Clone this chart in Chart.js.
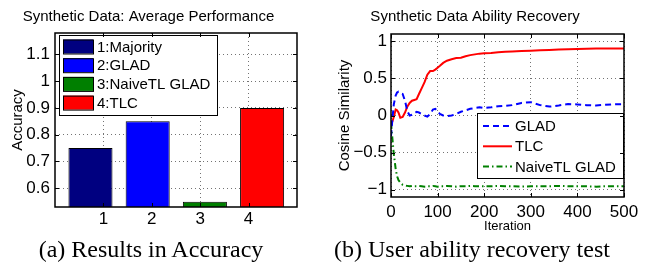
<!DOCTYPE html>
<html>
<head>
<meta charset="utf-8">
<script src="https://cdn.jsdelivr.net/npm/chart.js@4.4.0/dist/chart.umd.min.js"></script>
<style>
  body { margin: 0; background: #fff; width: 652px; height: 266px; position: relative; overflow: hidden; }
  .wrap { position: absolute; top: 0; width: 326px; height: 236px; }
  .cap { position: absolute; top: 235px; font-family: 'Liberation Serif', 'Times New Roman', serif;
         font-size: 24px; line-height: 28px; white-space: nowrap; transform: translateX(-50%); color: #000; }
</style>
</head>
<body>
<div class="wrap" style="left:0"><canvas id="accChart" width="326" height="236"></canvas></div>
<div class="wrap" style="left:326px"><canvas id="recChart" width="326" height="236"></canvas></div>
<div class="cap" style="left:151px">(a) Results in Accuracy</div>
<div class="cap" style="left:472px">(b) User ability recovery test</div>
<script>
// left panel: accuracy per method
const methodNames = ['1:Majority', '2:GLAD', '3:NaiveTL GLAD', '4:TLC'];
const barTickLabels = ['1', '2', '3', '4'];
const barSlots = [1, 2, 3, 4];
const accuracy = [0.75, 0.85, 0.55, 0.90];
const accTicks = [0.6, 0.7, 0.8, 0.9, 1, 1.1];

// right panel: cosine similarity vs iteration
const iterations = [0, 3, 6, 10, 13, 16, 20, 25, 30, 35, 40, 45, 50, 55, 60, 66, 72, 78, 84, 90, 95, 100,
  105, 112, 120, 130, 140, 150, 160, 170, 180, 190, 200, 215, 230, 245, 260, 280, 300,
  320, 340, 360, 380, 400, 420, 440, 460, 480, 500];
const gladSim = [-0.28, -0.05, 0.15, 0.27, 0.31, 0.32, 0.30, 0.29, 0.20, 0.06, 0.0, 0.01, 0.03, 0.05, 0.04,
  0.02, 0.0, -0.015, 0.02, 0.08, 0.09, 0.06,
  0.02, 0.0, -0.01, 0.0, 0.02, 0.05, 0.07, 0.09, 0.10, 0.11, 0.10, 0.11, 0.125, 0.13, 0.14, 0.17, 0.18,
  0.14, 0.12, 0.135, 0.155, 0.15, 0.14, 0.135, 0.145, 0.15, 0.155];
const tlcSim = [-0.12, -0.08, -0.02, 0.08, 0.07, 0.04, -0.03, -0.02, 0.04, 0.12, 0.17, 0.20, 0.21, 0.22, 0.29,
  0.37, 0.45, 0.55, 0.60, 0.60, 0.62, 0.645,
  0.67, 0.71, 0.74, 0.76, 0.775, 0.78, 0.80, 0.815, 0.825, 0.835, 0.84, 0.845, 0.855, 0.86, 0.865, 0.87, 0.875,
  0.88, 0.885, 0.89, 0.893, 0.896, 0.90, 0.905, 0.905, 0.905, 0.905];
const naiveSim = [-0.10, -0.31, -0.52, -0.72, -0.82, -0.87, -0.905, -0.935, -0.945, -0.95, -0.955, -0.95, -0.955, -0.955, -0.95,
  -0.955, -0.96, -0.955, -0.955, -0.95, -0.955, -0.96,
  -0.955, -0.955, -0.95, -0.955, -0.96, -0.955, -0.955, -0.95, -0.955, -0.955, -0.955, -0.955, -0.95, -0.955, -0.955, -0.96, -0.955,
  -0.955, -0.955, -0.95, -0.955, -0.955, -0.955, -0.96, -0.955, -0.955, -0.955];
const simTicks = [-1, -0.5, 0, 0.5, 1];
const iterTicks = [0, 100, 200, 300, 400, 500];

const barColors = ['#000080', '#0000ff', '#007f00', '#ff0000'];
const sans = "'Liberation Sans', Arial, Helvetica, sans-serif";
Chart.defaults.font.family = sans;
Chart.defaults.color = '#000';

const dotGrid = { color: 'rgba(0,0,0,0.55)', lineWidth: 1, drawTicks: false, offset: false };
const dotBorder = { display: false, dash: [1, 3] };
const minus = v => String(v).replace('-', '\u2212');

// black box around the plot with small inward ticks, like matlab
const framePlugin = {
  id: 'frame',
  afterDraw(chart, args, opts) {
    const { ctx, chartArea: a } = chart;
    const l = Math.round(a.left), r = Math.round(a.right), t = Math.round(a.top), b = Math.round(a.bottom);
    ctx.save();
    ctx.strokeStyle = '#000';
    ctx.lineWidth = 1.5;
    ctx.setLineDash([]);
    ctx.beginPath();
    ctx.moveTo(l, t); ctx.lineTo(r, t); ctx.lineTo(r, b); ctx.lineTo(l, b); ctx.closePath();
    ctx.stroke();
    const xs = chart.scales[opts.xScale || 'x'], ys = chart.scales.y;
    ctx.lineWidth = 1;
    ctx.beginPath();
    xs.ticks.forEach(tk => {
      const p = Math.round(xs.getPixelForValue(tk.value)) + 0.5;
      ctx.moveTo(p, b); ctx.lineTo(p, b - 4);
      ctx.moveTo(p, t); ctx.lineTo(p, t + 4);
    });
    ys.ticks.forEach(tk => {
      const p = Math.round(ys.getPixelForValue(tk.value)) + 0.5;
      ctx.moveTo(l, p); ctx.lineTo(l + 4, p);
      ctx.moveTo(r, p); ctx.lineTo(r - 4, p);
    });
    ctx.stroke();
    ctx.restore();
  }
};

// boxed legend placed inside the plot
const boxLegend = {
  id: 'boxLegend',
  afterDatasetsDraw(chart, args, o) {
    const ctx = chart.ctx;
    ctx.save();
    ctx.fillStyle = '#fff';
    ctx.fillRect(o.x, o.y, o.w, o.h);
    ctx.strokeStyle = '#000';
    ctx.lineWidth = 1;
    ctx.strokeRect(o.x + 0.5, o.y + 0.5, o.w, o.h);
    ctx.font = '15px ' + sans;
    ctx.textBaseline = 'middle';
    o.items.forEach((it, i) => {
      const cy = o.rowTop + i * o.pitch;
      if (o.kind === 'swatch') {
        ctx.fillStyle = it.color;
        ctx.fillRect(o.markX, cy - 7, o.markW, 14);
        ctx.strokeStyle = '#000';
        ctx.strokeRect(o.markX + 0.5, cy - 6.5, o.markW, 14);
      } else {
        ctx.strokeStyle = it.color;
        ctx.lineWidth = 2;
        ctx.setLineDash(it.dash || []);
        ctx.beginPath();
        ctx.moveTo(o.markX, cy); ctx.lineTo(o.markX + o.markW, cy);
        ctx.stroke();
        ctx.setLineDash([]);
      }
      ctx.fillStyle = '#000';
      ctx.fillText(it.label, o.textX, cy + 1);
    });
    ctx.restore();
  }
};

new Chart(document.getElementById('accChart'), {
  type: 'bar',
  data: {
    datasets: [{
      data: barSlots.map((x, i) => ({ x: x, y: accuracy[i] })),
      backgroundColor: barColors,
      borderColor: '#000',
      borderWidth: 1,
      barPercentage: 0.77,
      categoryPercentage: 1,
      xAxisID: 'x',
      yAxisID: 'y'
    }]
  },
  options: {
    responsive: false,
    animation: false,
    devicePixelRatio: 1,
    layout: { padding: { left: 0, right: 29, top: 0, bottom: 0 } },
    plugins: {
      legend: { display: false },
      tooltip: { enabled: false },
      title: {
        display: true, text: 'Synthetic Data: Average Performance', color: '#000',
        font: { size: 15, weight: 'normal' }, padding: { top: 8, bottom: 7 }
      },
      frame: { xScale: 'xt' },
      boxLegend: {
        kind: 'swatch', x: 59, y: 35, w: 158, h: 80, rowTop: 46.5, pitch: 18.7,
        markX: 63, markW: 30, textX: 97,
        items: methodNames.map((n, i) => ({ label: n, color: barColors[i] }))
      }
    },
    scales: {
      x: { type: 'linear', display: false, offset: false, min: 0.38, max: 4.61, grid: { offset: false } },
      xt: {
        type: 'linear', position: 'bottom', min: 0, max: 5, offset: false,
        afterBuildTicks: s => { s.ticks = barSlots.map(v => ({ value: v })); },
        afterFit: s => { s.height = 29; },
        ticks: { callback: v => barTickLabels[barSlots.indexOf(v)], font: { size: 17 }, color: '#000', padding: 2, maxRotation: 0 },
        grid: dotGrid, border: dotBorder
      },
      y: {
        min: 0.53, max: 1.18,
        afterBuildTicks: s => { s.ticks = accTicks.map(v => ({ value: v })); },
        afterFit: s => { s.width = 55; },
        ticks: { callback: v => String(v), font: { size: 17 }, color: '#000', padding: 5 },
        grid: dotGrid, border: dotBorder,
        title: { display: true, text: 'Accuracy', font: { size: 15 }, color: '#000', padding: { top: 9, bottom: 0 } }
      }
    }
  },
  plugins: [framePlugin, boxLegend]
});

const recChart = new Chart(document.getElementById('recChart'), {
  type: 'line',
  data: {
    datasets: [
      { label: 'GLAD', data: iterations.map((x, i) => ({ x: x, y: gladSim[i] })),
        borderColor: '#0000ff', borderWidth: 2, borderDash: [6, 4] },
      { label: 'TLC', data: iterations.map((x, i) => ({ x: x, y: tlcSim[i] })),
        borderColor: '#ff0000', borderWidth: 2 },
      { label: 'NaiveTL GLAD', data: iterations.map((x, i) => ({ x: x, y: naiveSim[i] })),
        borderColor: '#008000', borderWidth: 2, borderDash: [6, 3, 1.5, 3] }
    ]
  },
  options: {
    responsive: false,
    animation: false,
    devicePixelRatio: 1,
    elements: { point: { radius: 0 }, line: { tension: 0 } },
    layout: { padding: { left: 0, right: 28, top: 0, bottom: 0 } },
    plugins: {
      legend: { display: false },
      tooltip: { enabled: false },
      title: {
        display: true, text: 'Synthetic Data Ability Recovery', color: '#000',
        font: { size: 15, weight: 'normal' }, padding: { top: 8, bottom: 8 }
      },
      frame: { xScale: 'x' },
      boxLegend: {
        kind: 'line', x: 151, y: 113, w: 146, h: 65, rowTop: 126, pitch: 20.3,
        markX: 157, markW: 29, textX: 189, items: []
      }
    },
    scales: {
      x: {
        type: 'linear', min: 0, max: 500,
        afterBuildTicks: s => { s.ticks = iterTicks.map(v => ({ value: v })); },
        afterFit: s => { s.height = 39; },
        ticks: { font: { size: 17 }, color: '#000', padding: 5, maxRotation: 0 },
        grid: dotGrid, border: dotBorder,
        title: { display: true, text: 'Iteration', font: { size: 13 }, color: '#000', padding: { top: 0, bottom: 2 } }
      },
      y: {
        min: -1.1, max: 1.1,
        afterBuildTicks: s => { s.ticks = simTicks.map(v => ({ value: v })); },
        afterFit: s => { s.width = 65; },
        ticks: { callback: minus, font: { size: 17 }, color: '#000', padding: 4 },
        grid: dotGrid, border: dotBorder,
        title: { display: true, text: 'Cosine Similarity', font: { size: 15 }, color: '#000', padding: { top: 10, bottom: 0 } }
      }
    }
  },
  plugins: [framePlugin, boxLegend]
});
recChart.options.plugins.boxLegend.items = recChart.data.datasets.map(d => ({ label: d.label, color: d.borderColor, dash: d.borderDash }));
recChart.update();
</script>
</body>
</html>
